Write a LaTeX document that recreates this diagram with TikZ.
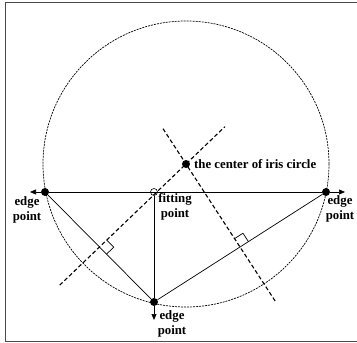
\documentclass[tikz,border=0pt]{standalone}
\usepackage{fontspec}
\setmainfont{Liberation Serif}
\usetikzlibrary{arrows.meta,calc}

\begin{document}
\begin{tikzpicture}[
    x=1pt, y=-1pt,
    dot/.style={circle, fill, inner sep=0pt, minimum size=8pt},
    hollow/.style={circle, draw, line width=0.6pt, inner sep=0pt, minimum size=7pt},
    lbl/.style={font=\fontsize{12.8}{15}\selectfont\bfseries, align=center, inner sep=0pt},
    bisect/.style={line width=1.1pt, dash pattern=on 4pt off 2.5pt},
    seg/.style={line width=0.7pt},
    arrow/.style={-{Triangle[length=6pt, width=5pt]}},
]
    \clip (0,0) rectangle (357,343);
    \draw[line width=1.2pt, black!70] (5.5,2.5) rectangle (370,341.5);

    % iris boundary
    \coordinate (ctr) at (186,164);
    \draw[line width=0.7pt, dash pattern=on 2pt off 1pt] (ctr) circle[radius=143pt];

    \node[dot] (eL) at (45,192) {};
    \node[dot] (eR) at (326,192) {};
    \node[dot] (eB) at (154,302) {};
    \node[hollow] (fit) at (154,192) {};
    \node[dot] (c) at (ctr) {};

    \coordinate (xL) at (30,192);
    \coordinate (xR) at (345,192);
    \coordinate (xB) at (154,320);

    % chords and axes
    \draw[seg] (eL) -- (eR);
    \draw[seg, arrow] (eL) -- (xL);
    \draw[seg, arrow] (eR) -- (xR);
    \draw[seg] (fit) -- (eB);
    \draw[seg, arrow] (eB) -- (xB);
    \draw[seg] (eL) -- (eB) -- (eR);

    % perpendicular bisectors
    \coordinate (m1) at ($(eL)!0.5!(eB)$);
    \coordinate (m2) at ($(eR)!0.5!(eB)$);
    \coordinate (b1s) at ($(ctr)!1.46!(m1)$);
    \coordinate (b1e) at ($(ctr)!-0.45!(m1)$);
    \coordinate (b2s) at ($(ctr)!1.65!(m2)$);
    \coordinate (b2e) at ($(ctr)!-0.44!(m2)$);
    \draw[bisect] (b1s) -- (b1e);
    \draw[bisect] (b2s) -- (b2e);

    % right angle marks
    \coordinate (r1a) at ($(m1)!10pt!(ctr)$);
    \coordinate (r1b) at ($(m1)!10pt!(eB)$);
    \draw[seg] (r1a) -- ($(r1a)+(r1b)-(m1)$) -- (r1b);
    \coordinate (r2a) at ($(m2)!10pt!(ctr)$);
    \coordinate (r2b) at ($(m2)!10pt!(eR)$);
    \draw[seg] (r2a) -- ($(r2a)+(r2b)-(m2)$) -- (r2b);

    \node[lbl] (lL) at (27,210) {edge\\point};
    \node[lbl] (lF) at (175,207) {fitting\\point};
    \node[lbl] (lR) at (340,209) {edge\\point};
    \node[lbl] (lB) at (172,324) {edge\\point};
    \node[lbl, anchor=west] (lC) at (194,164) {the center of iris circle};
\end{tikzpicture}
\end{document}
